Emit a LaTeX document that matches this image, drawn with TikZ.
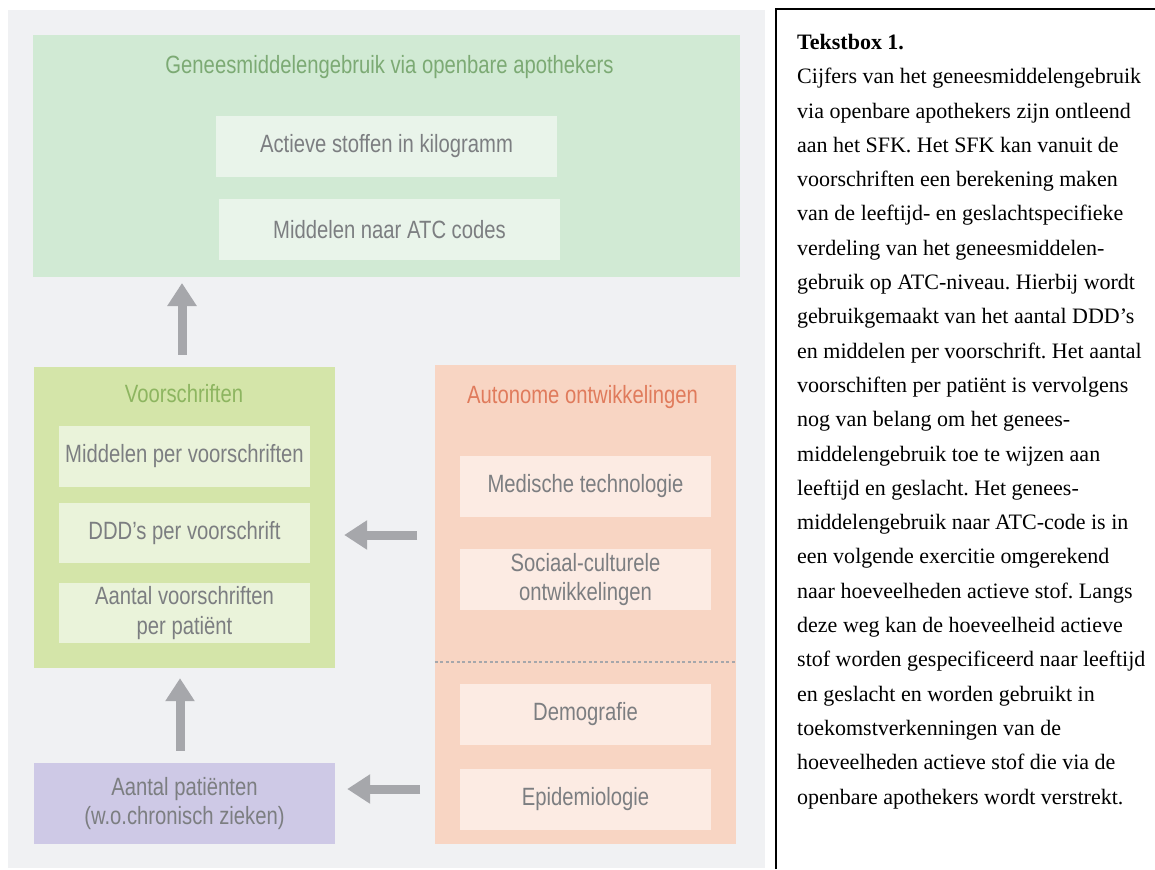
\documentclass[tikz,border=0pt]{standalone}
\usepackage{fontspec}
\setmainfont{Liberation Serif}
\newfontfamily\diafont{Liberation Sans}[FakeStretch=0.81]
\usepackage{xcolor}
\usepackage{tikz}
\usetikzlibrary{arrows.meta,positioning}
\definecolor{bggray}{HTML}{F0F1F3}
\definecolor{txtgray}{HTML}{7C7E81}
\definecolor{arrgray}{HTML}{A6A7AB}
\definecolor{grnbox}{HTML}{D1EAD4}
\definecolor{grnin}{HTML}{E9F4EA}
\definecolor{grnttl}{HTML}{7CAA74}
\definecolor{lmbox}{HTML}{D4E5A9}
\definecolor{lmin}{HTML}{EAF3DA}
\definecolor{lmttl}{HTML}{8DB560}
\definecolor{orbox}{HTML}{F8D5C3}
\definecolor{orin}{HTML}{FCEBE3}
\definecolor{orttl}{HTML}{E07B5C}
\definecolor{pubox}{HTML}{CEC9E6}
\tikzset{grp/.style={rectangle,inner sep=0pt}}
\tikzset{box/.style={rectangle,inner sep=0pt,minimum width=251pt,minimum height=61pt,align=center,text=txtgray,font=\diafont\fontsize{25}{29.5}\selectfont}}
\tikzset{ttl/.style={inner sep=0pt,font=\diafont\fontsize{25}{29.5}\selectfont}}
\tikzset{pijl/.style={draw=arrgray,line width=9pt,-{Triangle[width=28pt,length=23pt]}}}

\begin{document}
\begin{tikzpicture}[x=1pt,y=-1pt]
        \useasboundingbox (0,0) rectangle (1155,869);
        \fill[bggray] (8,10) rectangle (765,868);

        \node[grp,fill=grnbox,minimum width=707pt,minimum height=242pt] (top)at (386.5,156) {};
        \node[ttl,text=grnttl] (toptl)at (389.5,67) {Geneesmiddelengebruik via openbare apothekers};
        \node[box,fill=grnin,minimum width=341pt] (act)at (386.5,146.5) {Actieve stoffen in kilogramm};
        \node[box,fill=grnin,minimum width=341pt] (atc)at (389.5,229.5) {Middelen naar ATC codes};

        \node[grp,fill=lmbox,minimum width=301pt,minimum height=301pt] (vs)at (184.5,517.5) {};
        \node[ttl,text=lmttl] (vstl)at (184,394) {Voorschriften};
        \node[box,fill=lmin] (mpv)at (184.5,456.5) {Middelen per voorschriften};
        \node[box,fill=lmin,minimum height=60pt] (ddd)at (184.5,533) {DDD’s per voorschrift};
        \node[box,fill=lmin,minimum height=60pt] (apv)at (184.5,613) {Aantal voorschriften\\per patiënt};

        \node[box,fill=pubox,minimum width=301pt,minimum height=81pt] (pat)at (184.5,803.5) {Aantal patiënten\\(w.o.chronisch zieken)};

        \node[grp,fill=orbox,minimum width=301pt,minimum height=479pt] (auto)at (585.5,604.5) {};
        \node[ttl,text=orttl] (autotl)at (582.5,397) {Autonome ontwikkelingen};
        \node[box,fill=orin] (med)at (585.5,486.5) {Medische technologie};
        \node[box,fill=orin] (soc)at (585.5,579.5) {Sociaal-culturele\\ontwikkelingen};
        \node[box,fill=orin] (demo)at (585.5,714.5) {Demografie};
        \node[box,fill=orin] (epi)at (585.5,799.5) {Epidemiologie};
        \draw[arrgray,line width=1.2pt,dash pattern=on 3pt off 2.5pt] (auto.west |- 0,662) -- (auto.east |- 0,662);

        \coordinate (c1) at (417,535);
        \coordinate (c2) at (420,789);

        \draw[pijl] ([xshift=-2.5pt,yshift=12pt]vs.north) -- ([xshift=-2.5pt]vs.north |- 0,283);
        \draw[pijl] ([xshift=-4.5pt,yshift=12pt]pat.north) -- ([xshift=-4.5pt,yshift=-10pt]vs.south);
        \draw[pijl] (c1) -- ([xshift=9pt]vs.east |- c1);
        \draw[pijl] (c2) -- ([xshift=12pt]pat.east |- c2);

        \draw[line width=2.5pt] (776,869) |- (1155,9);
        \node[anchor=north west,inner sep=0pt,align=left,font=\frenchspacing\fontsize{22}{34.3}\selectfont] (tb)at (797,34) {\textbf{Tekstbox 1.}\\
Cijfers van het geneesmiddelengebruik\\
via openbare apothekers zijn ontleend\\
aan het SFK. Het SFK kan vanuit de\\
voorschriften een berekening maken\\
van de leeftijd- en geslachtspecifieke\\
verdeling van het geneesmiddelen-\\
gebruik op ATC-niveau. Hierbij wordt\\
gebruikgemaakt van het aantal DDD’s\\
en middelen per voorschrift. Het aantal\\
voorschiften per patiënt is vervolgens\\
nog van belang om het genees-\\
middelengebruik toe te wijzen aan\\
leeftijd en geslacht. Het genees-\\
middelengebruik naar ATC-code is in\\
een volgende exercitie omgerekend\\
naar hoeveelheden actieve stof. Langs\\
deze weg kan de hoeveelheid actieve\\
stof worden gespecificeerd naar leeftijd\\
en geslacht en worden gebruikt in\\
toekomstverkenningen van de\\
hoeveelheden actieve stof die via de\\
openbare apothekers wordt verstrekt.};
    \end{tikzpicture}
\end{document}
